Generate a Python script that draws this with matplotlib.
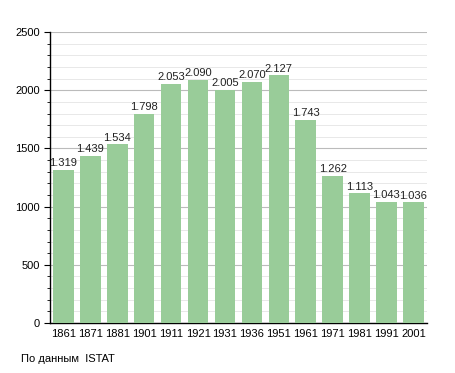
import numpy as np
import matplotlib.pyplot as plt
from matplotlib.ticker import MultipleLocator

# dati della popolazione
anni = ['1861', '1871', '1881', '1901', '1911', '1921', '1931',
        '1936', '1951', '1961', '1971', '1981', '1991', '2001']
abitanti = [1319, 1439, 1534, 1798, 2053, 2090, 2005,
            2070, 2127, 1743, 1262, 1113, 1043, 1036]
etichette = ['1.319', '1.439', '1.534', '1.798', '2.053', '2.090', '2.005',
             '2.070', '2.127', '1.743', '1.262', '1.113', '1.043', '1.036']

plt.rcParams['font.family'] = ['Liberation Sans', 'DejaVu Sans']

fig = plt.figure(figsize=(4.55, 3.73), dpi=100)
ax = fig.add_axes([0.11, 0.134, 0.828, 0.78])

x = np.arange(len(anni))
ax.bar(x, abitanti, width=0.76, color='#99cc99', zorder=3)

for i in range(len(anni)):
    ax.text(x[i], abitanti[i] + 15, etichette[i], ha='center', va='bottom',
            fontsize=8, color='#222222', zorder=4)

ax.set_xlim(-0.5, len(anni) - 0.5)
ax.set_ylim(0, 2500)
ax.set_xticks(x)
ax.set_xticklabels(anni, fontsize=8)
ax.yaxis.set_major_locator(MultipleLocator(500))
ax.yaxis.set_minor_locator(MultipleLocator(100))
ax.tick_params(axis='y', labelsize=8, length=4)
ax.tick_params(axis='y', which='minor', length=2)
ax.tick_params(axis='x', length=0, pad=4)

ax.grid(axis='y', which='major', color='#bbbbbb', linewidth=0.8, zorder=0)
ax.grid(axis='y', which='minor', color='#e4e4e4', linewidth=0.6, zorder=0)

for s in ['top', 'right']:
    ax.spines[s].set_visible(False)
ax.spines['left'].set_linewidth(1)
ax.spines['bottom'].set_linewidth(1)

fig.text(0.046, 0.03, 'По данным  ISTAT', fontsize=8)

plt.savefig('out.png', dpi=100)
